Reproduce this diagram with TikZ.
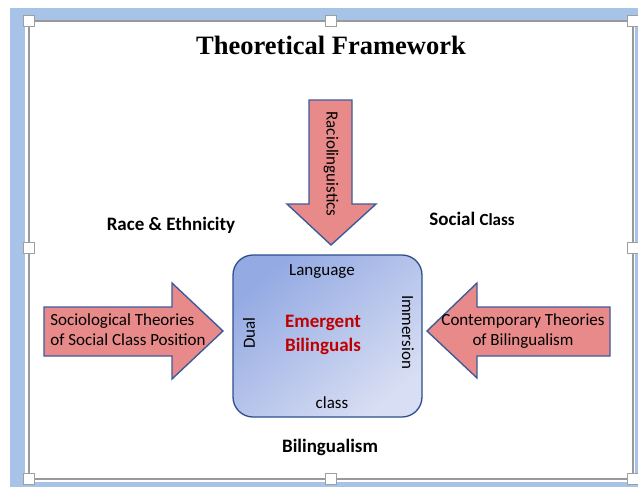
\documentclass[tikz,border=0pt]{standalone}
\usepackage{fontspec}
\setmainfont{Carlito}
\newfontfamily\titlefont{Liberation Serif}
\usetikzlibrary{shapes,arrows,positioning,calc}

\definecolor{framebg}{HTML}{A7C4E8}
\definecolor{arrowfill}{HTML}{E98A8A}
\definecolor{arrowline}{HTML}{3D5B9B}
\definecolor{boxtop}{HTML}{94AAE3}
\definecolor{boxbot}{HTML}{D8DEF3}
\definecolor{boxline}{HTML}{2F4F8C}
\definecolor{emred}{HTML}{C00000}

\tikzset{
  blockarrow/.style={fill=arrowfill, draw=arrowline, line width=1.4pt, line join=miter},
  handle/.style={draw=gray!75, fill=white, line width=0.9pt, minimum size=11pt, inner sep=0pt},
  lbl/.style={font=\fontsize{17}{20}\selectfont, inner sep=0pt},
  boldlbl/.style={font=\fontsize{19}{24}\selectfont\bfseries, inner sep=0pt},
}

\begin{document}
\begin{tikzpicture}[x=1pt, y=-1pt]
    \useasboundingbox (0,0) rectangle (638,493);

    % window frame and selection outline
    \fill [framebg] (10,8) rectangle (645,487);
    \fill [white] (25,20) rectangle (635,482);
    \draw [gray!80, line width=1.6pt] (29,21) rectangle (633,479);
    \foreach \hx/\hy in {29/21, 331/21, 633/21, 29/248, 633/248, 29/479, 331/479, 633/479}
        \node [handle] at (\hx,\hy) {};

    \node (title) at (331,45) {\titlefont\fontsize{26.5}{28}\selectfont\bfseries Theoretical Framework};

    % block arrows
    \draw [blockarrow] (309,100) -- (352,100) -- (352,204) -- (376,204) -- (331,245)
        -- (287,204) -- (309,204) -- cycle;
    \draw [blockarrow] (44,307) -- (172,307) -- (172,283) -- (223,331) -- (172,379)
        -- (172,356) -- (44,356) -- cycle;
    \draw [blockarrow] (610,307) -- (477,307) -- (477,283) -- (427,331) -- (477,378)
        -- (477,356) -- (610,356) -- cycle;

    \node [lbl, rotate=-90] (racio) at (331,164) {Raciolinguistics};
    \node [lbl, align=left] (socio) at (128,330) {Sociological Theories\\of Social Class Position};
    \node [lbl, align=center] (contemp) at (523,331) {Contemporary Theories\\of Bilingualism};

    % centre box
    \draw [boxline, line width=1.3pt, rounded corners=20pt, shading=axis,
        top color=boxtop, bottom color=boxbot, shading angle=40]
        (233,255) rectangle (422,417);
    \node [lbl] (lang) at (322,272) {Language};
    \node [lbl] (cls) at (332,403) {class};
    \node [lbl, rotate=90] (dual) at (249,333) {Dual};
    \node [lbl, rotate=-90] (immer) at (408,332) {Immersion};
    \node [boldlbl, text=emred, align=center] (eb) at (323,335) {Emergent\\Bilinguals};

    \node [boldlbl] (race) at (171,225) {Race \& Ethnicity};
    \node [boldlbl] (social) at (472,219) {Social {\fontsize{17}{20}\selectfont Class}};
    \node [boldlbl] (biling) at (330,447) {Bilingualism};
\end{tikzpicture}
\end{document}
